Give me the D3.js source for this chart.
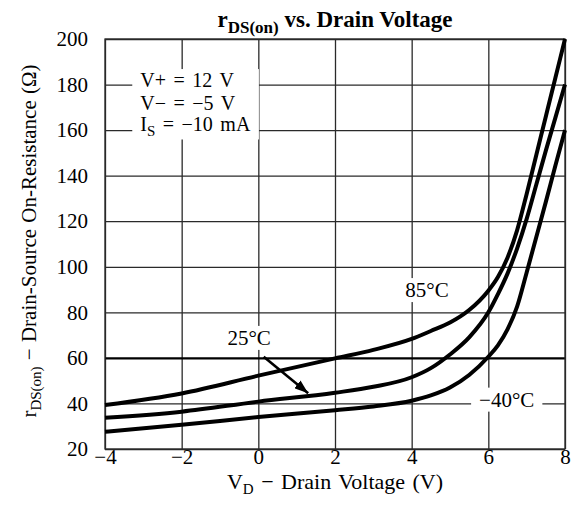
<!DOCTYPE html>
<html>
<head>
<meta charset="utf-8">
<script src="https://cdn.jsdelivr.net/npm/d3@7"></script>
<style>
  body { margin: 0; background: #fff; }
  svg { display: block; font-family: "Liberation Serif", "Times New Roman", serif; }
</style>
</head>
<body>
<svg class="Chart__SVG" width="572" height="517"></svg>
<script>
// drain voltage sample points (V)
var drainVoltage = [-4, -2, 0, 2, 3, 4, 4.5, 5, 5.5, 6, 6.25, 6.5, 6.75, 7, 7.25, 7.5, 7.75, 8];
// rDS(on) in ohms
var rds85 = [39.3, 44.4, 52.2, 59.8, 63.5, 68.3, 71.8, 75.5, 81, 89.5, 95.5, 104, 116, 132, 149, 166, 183, 200];
var rds25 = [33.7, 36.4, 40.8, 44.7, 47.3, 51.5, 55.5, 61.5, 69, 80, 88, 97, 108, 121, 136, 151, 165.5, 180];
var rdsM40 = [27.6, 30.6, 34, 37, 38.7, 41.2, 43.5, 47, 52.5, 60.5, 65.5, 72.5, 82.5, 97.5, 113, 128.5, 144.5, 160];

var xTicks = [-4, -2, 0, 2, 4, 6, 8];
var yTicks = [20, 40, 60, 80, 100, 120, 140, 160, 180, 200];

// curve labels: [text, x (V), y (ohm)]
var curveLabels = [["85\u00B0C", 4.4, 86.7], ["25\u00B0C", -0.24, 65.7], ["\u221240\u00B0C", 6.48, 38.6]];
// arrow from the 25°C label to its curve
var arrowFrom = [0.14, 60.5], arrowTo = [1.3, 44.5];
// test conditions
var condX = -3.08, condY = [178.9, 168.8, 159.4];

var margin = { top: 39, right: 7, bottom: 68, left: 105 };
var svgW = 572, svgH = 517;
var width = svgW - margin.left - margin.right;
var height = svgH - margin.top - margin.bottom;

var svg = d3.select(".Chart__SVG")
  .append("g")
  .attr("transform", `translate(${margin.left},${margin.top})`);

var x = d3.scaleLinear().domain([-4, 8]).range([0, width]);
var y = d3.scaleLinear().domain([20, 200]).range([height, 0]);

var minus = d => d < 0 ? "\u2212" + Math.abs(d) : "" + d;

// x grid + tick labels
var xAxis = svg.append("g")
  .attr("transform", `translate(0,${height})`)
  .call(d3.axisBottom(x).tickValues(xTicks).tickSize(-height).tickPadding(0).tickFormat(minus));
// y grid + tick labels
var yAxis = svg.append("g")
  .call(d3.axisLeft(y).tickValues(yTicks).tickSize(-width).tickPadding(17));

[xAxis, yAxis].forEach(a => {
  a.select(".domain").remove();
  a.selectAll("line").attr("stroke", "#2a2a2a").attr("stroke-width", 1.3);
  a.selectAll("text").attr("fill", "#000").style("font-size", "21px")
    .style("font-family", "'Liberation Serif', serif");
});
// the 60 ohm line is drawn heavier
yAxis.selectAll(".tick").filter(d => d === 60).select("line")
  .attr("stroke", "#000").attr("stroke-width", 2.2);

// plot frame
svg.append("rect")
  .attr("width", width).attr("height", height)
  .attr("fill", "none").attr("stroke", "#2a2a2a").attr("stroke-width", 1.3);

// white backgrounds behind text go in this layer
var bgLayer = svg.append("g");

// curves
var line = d3.line()
  .x((d, i) => x(drainVoltage[i]))
  .y(d => y(d))
  .curve(d3.curveMonotoneX);

svg.append("g").selectAll("path")
  .data([rds85, rds25, rdsM40])
  .enter()
  .append("path")
  .attr("d", line)
  .attr("fill", "none")
  .attr("stroke", "#000")
  .attr("stroke-width", 4)
  .attr("stroke-linejoin", "round");

// arrow
svg.append("defs").append("marker")
  .attr("id", "head")
  .attr("markerUnits", "userSpaceOnUse")
  .attr("viewBox", "0 0 14 10")
  .attr("refX", 14).attr("refY", 5)
  .attr("markerWidth", 14).attr("markerHeight", 10)
  .attr("orient", "auto")
  .append("path").attr("d", "M0,0 L14,5 L0,10 Z").attr("fill", "#000");

svg.append("line")
  .attr("x1", x(arrowFrom[0])).attr("y1", y(arrowFrom[1]))
  .attr("x2", x(arrowTo[0])).attr("y2", y(arrowTo[1]))
  .attr("stroke", "#000").attr("stroke-width", 2.6)
  .attr("marker-end", "url(#head)");

// curve labels with white backing
curveLabels.forEach(l => {
  var t = svg.append("text")
    .attr("x", x(l[1])).attr("y", y(l[2]))
    .attr("text-anchor", "middle")
    .style("font-size", "21px")
    .text(l[0]);
  var b = t.node().getBBox();
  var pad = l[0].charAt(0) === "\u2212" ? 8 : 3;
  bgLayer.append("rect")
    .attr("x", b.x - pad).attr("y", b.y).attr("width", b.width + 2 * pad).attr("height", b.height)
    .attr("fill", "#fff");
});

// test conditions block
var cond = svg.append("g").style("font-size", "20px").style("word-spacing", "2.5px");
cond.append("text").attr("x", x(condX)).attr("y", y(condY[0])).text("V+ = 12 V");
cond.append("text").attr("x", x(condX)).attr("y", y(condY[1])).text("V\u2212 = \u22125 V");
var c3 = cond.append("text").attr("x", x(condX)).attr("y", y(condY[2]));
c3.append("tspan").text("I");
c3.append("tspan").attr("dy", 5).style("font-size", "15px").text("S");
c3.append("tspan").attr("dy", -5).text(" = \u221210 mA");
var cb = cond.node().getBBox();
bgLayer.append("rect")
  .attr("x", cb.x - 8).attr("y", cb.y).attr("width", cb.width + 16).attr("height", cb.height)
  .attr("fill", "#fff");

// title
var title = svg.append("text")
  .attr("x", width / 2).attr("y", -12)
  .attr("text-anchor", "middle")
  .style("font-size", "23px").style("font-weight", "bold");
title.append("tspan").text("r");
title.append("tspan").attr("dy", 6).style("font-size", "17px").text("DS(on)");
title.append("tspan").attr("dy", -6).text(" vs. Drain Voltage");

// x axis title
var xt = svg.append("text")
  .attr("x", width / 2).attr("y", height + 39.5)
  .attr("text-anchor", "middle")
  .style("font-size", "22px").style("word-spacing", "2px");
xt.append("tspan").text("V");
xt.append("tspan").attr("dy", 5).style("font-size", "15px").text("D");
xt.append("tspan").attr("dy", -5).text(" \u2212 Drain Voltage (V)");

// y axis title
var yt = svg.append("text")
  .attr("transform", `translate(${36 - margin.left},${height / 2 - 3}) rotate(-90)`)
  .attr("text-anchor", "middle")
  .style("font-size", "21px").style("word-spacing", "1px");
yt.append("tspan").text("r");
yt.append("tspan").attr("dy", 5).style("font-size", "15px").text("DS(on)");
yt.append("tspan").attr("dy", -5).text(" \u2212 Drain-Source On-Resistance (\u03A9)");
</script>
</body>
</html>
